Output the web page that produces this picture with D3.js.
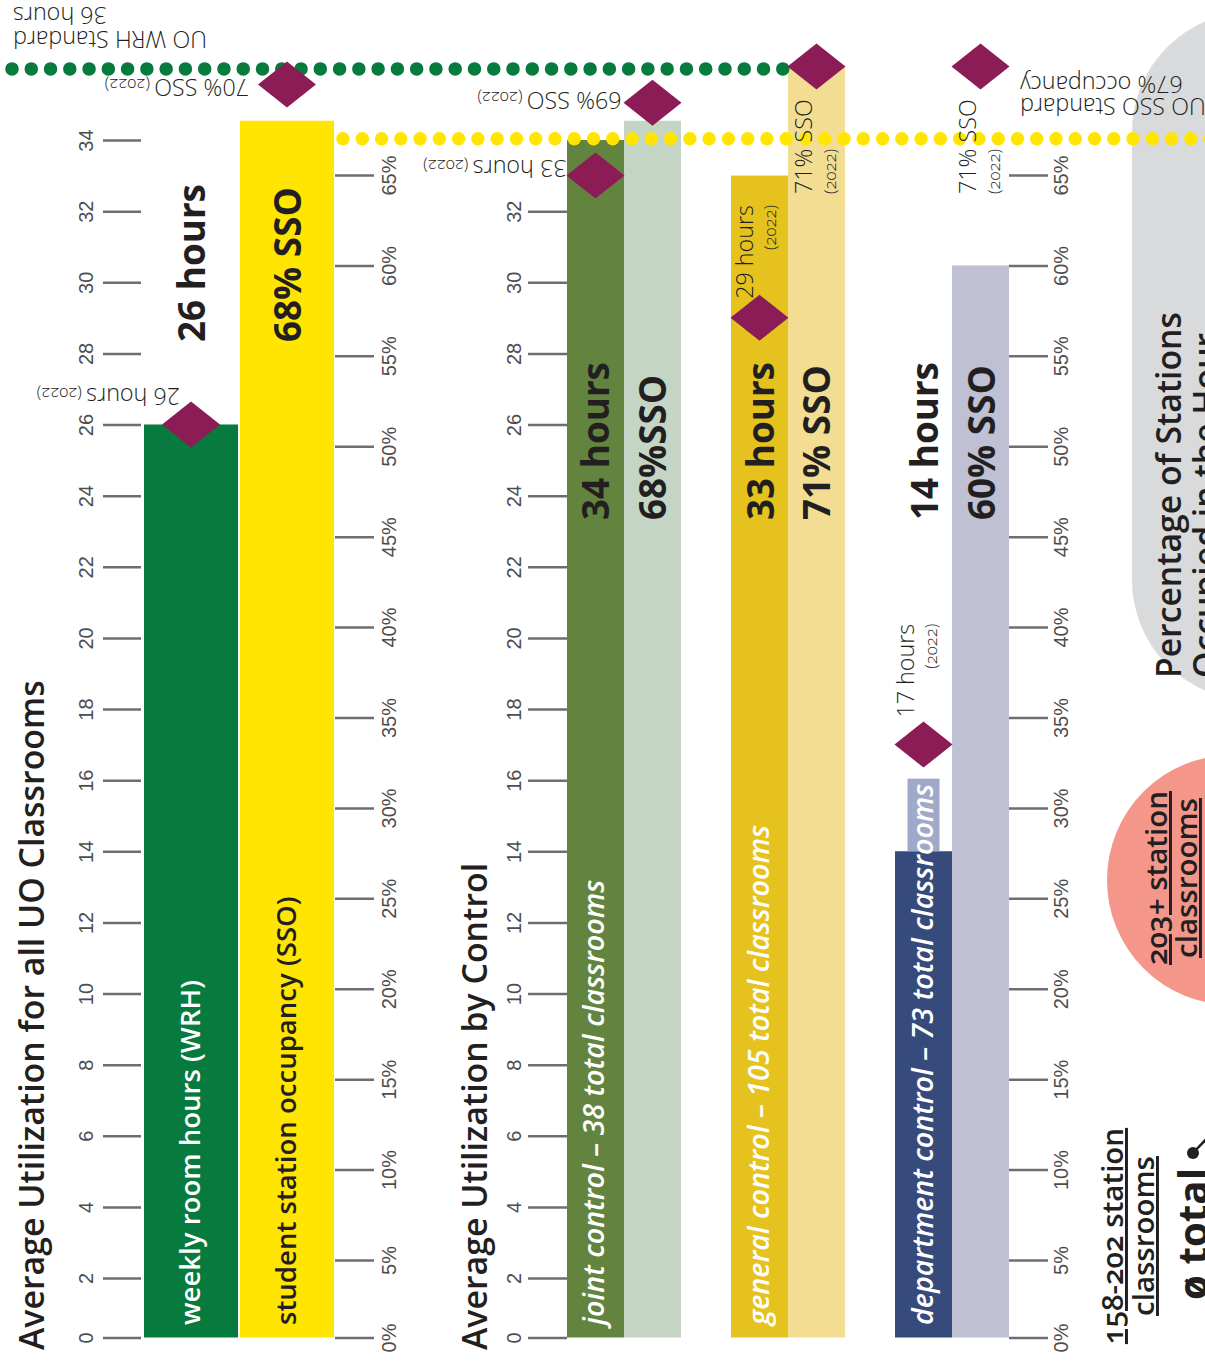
<!DOCTYPE html>
<html>
<head>
<meta charset="utf-8">
<script src="https://cdn.jsdelivr.net/npm/d3@7"></script>
<style>
  body { margin: 0; background: #fff; }
  svg { display: block; font-family: "Open Sans", "Noto Sans", sans-serif; font-stretch: 92%; }
  .onum { font-variant-numeric: oldstyle-nums; }
</style>
</head>
<body>
<svg id="chart" width="1205" height="1361"></svg>
<script>
// ---- data ----
const groups = ["all", "joint", "general", "department"];
const groupLabels = [
  "weekly room hours (WRH)",
  "joint control – 38 total classrooms",
  "general control – 105 total classrooms",
  "department control – 73 total classrooms"
];
const occupancyBarLabel = "student station occupancy (SSO)";
const weeklyHours = [26, 34, 33, 14];
const stationOccupancy = [68, 68, 71, 60];
const weeklyHours2022 = [26, 33, 29, 17];
const stationOccupancy2022 = [70, 69, 71, 71];
const hourLabels = ["26 hours", "34 hours", "33 hours", "14 hours"];
const occupancyLabels = ["68% SSO", "68%SSO", "71% SSO", "60% SSO"];
const hoursStandard = 36;
const occupancyStandard = 67;
const hourTicksAll = d3.range(0, 35, 2);
const hourTicksControl = d3.range(0, 33, 2);
const percentTicks = d3.range(0, 66, 5);

// ---- styling ----
const INK = "#231f20";
const AXIS = "#6d6e71";
const DIAMOND = "#8b1c56";
const palette = {
  all: ["#077a3e", "#ffe500"],
  joint: ["#62843f", "#c4d5c6"],
  general: ["#e6c21f", "#f2dd93"],
  department: ["#364a7c", "#bfc0d4"]
};

const svg = d3.select("#chart");

// font sizes chosen so each text family runs to its set length
function fitSize(str, weight, italic, target, base = 30) {
  const t = svg.append("text").attr("font-size", base).attr("font-weight", weight)
    .attr("font-style", italic ? "italic" : null).text(str);
  const len = t.node().getComputedTextLength();
  t.remove();
  return base * target / len;
}
const TITLE = fitSize("Average Utilization for all UO Classrooms", 600, false, 670);
const BARLAB = fitSize("weekly room hours (WRH)", 600, false, 345);
const ITAL = fitSize("general control – 105 total classrooms", 600, true, 500);
const BIG = fitSize("26 hours", 700, false, 158);
const NOTE = fitSize("UO WRH Standard", 300, false, 194);
const PANEL = fitSize("Percentage of Stations", 600, false, 366);
const STATION = fitSize("203+ station", 600, false, 175);
const TOTAL = fitSize("ø total", 700, false, 132);

// ---- scales ----
const yHours = d3.scaleLinear().domain([0, 2, 34]).range([1337.5, 1278, 140]);
const yPct = d3.scaleLinear().domain([0, 5, 65]).range([1337.5, 1260, 175]);
const measures = ["hours", "occupancy"];
const xAll = d3.scaleBand().domain(measures).range([144, 334]).paddingInner(0.02);
const xControl = d3.scaleBand().domain(groups.slice(1)).range([567, 1009]).paddingInner(0.305);
const xMeasure = d3.scaleBand().domain(measures).range([0, xControl.bandwidth()]);

const bars = [];
groups.forEach((g, i) => {
  bars.push({ group: g, i, measure: "hours", value: weeklyHours[i], prior: weeklyHours2022[i] });
  bars.push({ group: g, i, measure: "occupancy", value: stationOccupancy[i], prior: stationOccupancy2022[i] });
});
const barX = d => d.group === "all" ? xAll(d.measure) : xControl(d.group) + xMeasure(d.measure);
const barW = d => d.group === "all" ? xAll.bandwidth() : xMeasure.bandwidth();
const barCx = d => barX(d) + barW(d) / 2;
const scaleOf = d => d.measure === "hours" ? yHours : yPct;

// ---- text helper ----
function label(parent, x, y, angle, str, s = {}) {
  const t = parent.append("text")
    .attr("transform", `translate(${x},${y}) rotate(${angle})`)
    .attr("font-size", s.size || 24)
    .attr("font-weight", s.weight || 400)
    .attr("fill", s.fill || INK)
    .attr("text-anchor", s.anchor || "start")
    .text(str);
  if (s.italic) t.attr("font-style", "italic");
  if (s.underline) t.style("text-decoration", "underline");
  if (s.onum) t.attr("class", "onum");
  return t;
}
function withYear(t) {
  t.append("tspan").attr("font-size", "0.72em").attr("class", "onum").text(" (2022)");
  return t;
}

// ---- right-hand panel backgrounds ----
svg.append("rect").attr("x", 1132).attr("y", 12).attr("width", 300).attr("height", 688)
  .attr("rx", 120).attr("fill", "#d9dadb");
svg.append("circle").attr("cx", 1232).attr("cy", 880).attr("r", 125).attr("fill", "#f4968a");

// ---- axes ----
function drawAxis(x, scale, ticks, size, fmt, labelOffset) {
  const g = svg.append("g").attr("transform", `translate(${x},0)`)
    .call(d3.axisRight(scale).tickValues(ticks).tickSize(size).tickFormat(fmt));
  g.select(".domain").remove();
  g.selectAll(".tick line").attr("stroke", AXIS).attr("stroke-width", 2.5);
  g.selectAll(".tick text")
    .attr("x", 0).attr("y", 0).attr("dy", null)
    .attr("transform", `translate(${labelOffset},0) rotate(-90)`)
    .attr("text-anchor", "middle")
    .attr("font-family", null)
    .attr("font-size", 20).attr("font-weight", 300).attr("fill", "#4d4d4f");
  return g;
}
const pctFmt = d => d + "%";
drawAxis(103, yHours, hourTicksAll, 38, d3.format("d"), -10);
drawAxis(335, yPct, percentTicks, 39, pctFmt, 61);
drawAxis(528, yHours, hourTicksControl, 39, d3.format("d"), -7);
drawAxis(1009, yPct, percentTicks, 39, pctFmt, 59);

// ---- bars ----
svg.append("g").selectAll("rect").data(bars).join("rect")
  .attr("x", barX)
  .attr("width", barW)
  .attr("y", d => scaleOf(d)(d.value))
  .attr("height", d => scaleOf(d)(0) - scaleOf(d)(d.value))
  .attr("fill", d => palette[d.group][d.measure === "hours" ? 0 : 1]);

// ---- standard reference lines (dotted) ----
svg.append("line")
  .attr("x1", 12).attr("x2", 812)
  .attr("y1", yHours(hoursStandard)).attr("y2", yHours(hoursStandard))
  .attr("stroke", "#077a3e").attr("stroke-width", 13.5)
  .attr("stroke-linecap", "round").attr("stroke-dasharray", "0 19.27");
svg.append("line")
  .attr("x1", 343).attr("x2", 1215)
  .attr("y1", yPct(occupancyStandard)).attr("y2", yPct(occupancyStandard))
  .attr("stroke", "#ffe500").attr("stroke-width", 13.5)
  .attr("stroke-linecap", "round").attr("stroke-dasharray", "0 19.27");

// ---- 2022 diamonds ----
svg.append("g").selectAll("path").data(bars).join("path")
  .attr("d", "M-29,0L0,-23L29,0L0,23Z")
  .attr("transform", d => `translate(${barCx(d)},${scaleOf(d)(d.prior)})`)
  .attr("fill", DIAMOND);

// ---- titles ----
label(svg, 44, 1350, -90, "Average Utilization for all UO Classrooms", { size: TITLE, weight: 600 });
label(svg, 487, 1350, -90, "Average Utilization by Control", { size: TITLE, weight: 600 });

// ---- labels inside the bars ----
const boxLayer = svg.append("g");
const labelLayer = svg.append("g");
bars.filter(d => d.measure === "hours").forEach(d => {
  const italic = d.group !== "all";
  const t = label(labelLayer, barCx(d) + 9, 1325, -90, groupLabels[d.i], {
    size: italic ? ITAL : BARLAB, weight: 600, fill: "#fff", italic
  });
  const len = t.node().getComputedTextLength();
  const top = 1325 - len - 5;
  if (top < yHours(d.value)) {
    boxLayer.append("rect")
      .attr("x", barCx(d) - 16).attr("width", 32)
      .attr("y", top).attr("height", yHours(d.value) - top)
      .attr("fill", "#9fa9c9");
  }
});
label(labelLayer, xAll("occupancy") + xAll.bandwidth() / 2 + 9, 1325, -90, occupancyBarLabel,
  { size: BARLAB, weight: 600 });

// ---- headline values ----
bars.forEach(d => {
  const txt = d.measure === "hours" ? hourLabels[d.i] : occupancyLabels[d.i];
  label(svg, barCx(d) + 14, d.group === "all" ? 342 : 520, -90, txt, { size: BIG, weight: 700 });
});

// ---- 2022 annotations ----
const ann = svg.append("g");
const pos = d => [barCx(d), scaleOf(d)(d.prior)];
// upside-down annotations
{
  let [cx, cy] = pos(bars[0]);
  withYear(label(ann, cx - 11, cy - 37, 180, `${bars[0].prior} hours`, { size: NOTE, weight: 300 }));
  [cx, cy] = pos(bars[1]);
  withYear(label(ann, cx - 38, cy - 6, 180, `${bars[1].prior}% SSO`, { size: NOTE, weight: 300 }));
  [cx, cy] = pos(bars[2]);
  withYear(label(ann, cx - 29, cy - 16, 180, `${bars[2].prior} hours`, { size: NOTE, weight: 300 }));
  [cx, cy] = pos(bars[3]);
  withYear(label(ann, cx - 31, cy - 11, 180, `${bars[3].prior}% SSO`, { size: NOTE, weight: 300 }));
}
// vertical annotations: value line, then the year line beside it
function vertAnn(d, startY, dx) {
  const cx = barCx(d);
  const main = d.measure === "hours" ? `${d.prior} hours` : `${d.prior}% SSO`;
  const t = label(ann, cx + dx, startY, -90, main, { size: NOTE, weight: 300 });
  const len = t.node().getComputedTextLength();
  if (d.measure === "hours") {
    label(ann, cx + dx + 23, startY - len, -90, "(2022)", { size: NOTE * 0.72, weight: 300, anchor: "end", onum: true });
  } else {
    label(ann, cx + dx + 24, startY, -90, "(2022)", { size: NOTE * 0.72, weight: 300, onum: true });
  }
}
vertAnn(bars[4], yHours(bars[4].prior) - 19, -7);
vertAnn(bars[6], yHours(bars[6].prior) - 27, -10);
vertAnn(bars[5], 194, -4);
vertAnn(bars[7], 194, -5);

// ---- standards labels ----
const wrhY = yHours(hoursStandard);
label(svg, 13, wrhY - 38, 180, "UO WRH Standard", { size: NOTE, weight: 300, anchor: "end" });
label(svg, 13, wrhY - 62, 180, "36 hours", { size: NOTE, weight: 300, anchor: "end" });
const ssoY = yPct(occupancyStandard);
label(svg, 1020, ssoY - 41, 180, "UO SSO Standard", { size: NOTE, weight: 300, anchor: "end" });
label(svg, 1020, ssoY - 63, 180, "67% occupancy", { size: NOTE, weight: 300, anchor: "end" });

// ---- right-hand panel text ----
label(svg, 1181, 678, -90, "Percentage of Stations", { size: PANEL, weight: 600 });
label(svg, 1218, 678, -90, "Occupied in the Hour", { size: PANEL, weight: 600 });
label(svg, 1167, 878, -90, "203+ station", { size: STATION, weight: 600, anchor: "middle", underline: true, onum: true });
label(svg, 1197, 878, -90, "classrooms", { size: STATION, weight: 600, anchor: "middle", underline: true });
label(svg, 1123, 1236, -90, "158-202 station", { size: STATION, weight: 600, anchor: "middle", underline: true, onum: true });
label(svg, 1154, 1236, -90, "classrooms", { size: STATION, weight: 600, anchor: "middle", underline: true });
label(svg, 1208, 1300, -90, "ø total", { size: TOTAL, weight: 700 });
svg.append("circle").attr("cx", 1193).attr("cy", 1153).attr("r", 6).attr("fill", INK);
svg.append("line").attr("x1", 1193).attr("y1", 1153).attr("x2", 1212).attr("y2", 1133)
  .attr("stroke", INK).attr("stroke-width", 2.5);
</script>
</body>
</html>
